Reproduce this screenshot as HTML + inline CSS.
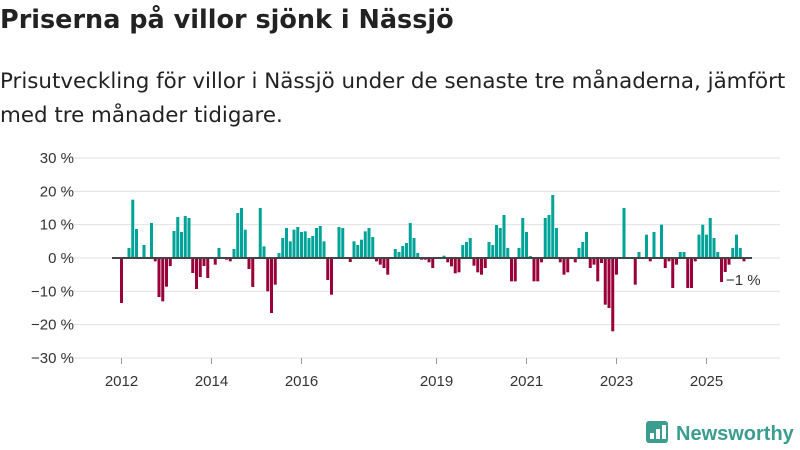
<!DOCTYPE html>
<html><head><meta charset="utf-8"><style>
body{margin:0;background:#fff;font-family:"Liberation Sans",sans-serif;}
#wrap{position:relative;width:800px;height:450px;overflow:hidden;}
h1{position:absolute;left:0;top:5px;margin:0;font-family:"DejaVu Sans",sans-serif;font-size:25.5px;font-weight:bold;color:#222;white-space:nowrap;}
p.sub{position:absolute;left:0;top:65px;margin:0;font-family:"DejaVu Sans",sans-serif;font-size:21.4px;line-height:34px;color:#222;width:800px;white-space:nowrap;}
svg{position:absolute;left:0;top:0;}
</style></head><body>
<div id="wrap">
<h1>Priserna på villor sjönk i Nässjö</h1>
<p class="sub">Prisutveckling för villor i Nässjö under de senaste tre månaderna, jämfört<br>med tre månader tidigare.</p>
<svg id="chart" width="800" height="450"></svg>
</div>
<script>
const values = [-13.5,0,3,17.5,8.7,0,3.9,0,10.5,-1,-11.7,-13,-8.6,-2.4,8.1,12.3,7.8,12.6,12,-4.5,-9.3,-5.7,-2.4,-6,0,-2,3,0,-0.5,-1,2.7,13.5,
15,8.5,-3.3,-8.7,0,15,3.5,-10,-16.5,-8,1.5,6,9,5,8.5,9.3,7.8,8,6,6.6,9,9.6,5,-6.6,-11,0,9.3,9,0,-1.2,5,3.9,
5.5,8,9,6.3,-1,-2,-3,-5,0,2.7,1.8,3.6,4.5,10.5,6,1.5,-0.5,-0.5,-1.3,-3,0,0,0.7,-1.3,-2.5,-4.6,-4.3,3.9,4.8,6,-2.3,-4.3,-5,-3,
4.8,3.9,9.9,9,12.9,3,-7,-7,3,12,7.8,0.6,-7,-7,-1.3,12,12.9,18.9,9,-1.3,-5,-4.3,0,-1.3,3,4.8,7.8,-3,-2,-7,
-1.5,-14,-15,-22,-5,0,15,0,0,-8,1.8,0,7,-1,7.8,0,10,-3,-1,-9,-2,1.8,1.8,-9,-9,-1,7,10,7,12,6,1.8,-7.2,-4.2,-2,3,7,3,-1];
const yTicks = [30,20,10,0,-10,-20,-30];
const yearLabels = [2012,2014,2016,2019,2021,2023,2025];
const lastLabel = "−1 %";

const svg = document.getElementById('chart');
const NS = 'http://www.w3.org/2000/svg';
const y = v => 258 - v * 3.333;
const x = i => 120 + 3.75 * i;
function mk(tag, attrs){const e=document.createElementNS(NS,tag);for(const k in attrs)e.setAttribute(k,attrs[k]);svg.appendChild(e);return e;}
yTicks.forEach(t=>{
  const g = mk('line',{x1:62,x2:780,y1:y(t),y2:y(t),stroke:'#e3e3e3','stroke-width':1});
  
  
  const l = mk('text',{x:74,y:y(t)+5,'text-anchor':'end','font-size':15,fill:'#333','font-family':'Liberation Sans, sans-serif'});
  l.textContent = (t<0?'−'+(-t):t)+' %';
  
  
});
values.forEach((v,i)=>{
  if(v===0) return;
  const r = mk('rect',{x:x(i),width:3,y:Math.min(y(v),y(0)),height:Math.abs(y(v)-y(0)),fill:v>0?'#00a398':'#990038'});
  
  
});
const zl = mk('line',{x1:112,x2:752,y1:y(0),y2:y(0),stroke:'#444','stroke-width':2});


yearLabels.forEach(yr=>{
  const i=(yr-2012)*12;
  const t = mk('text',{x:x(i)+1.5,y:386,'text-anchor':'middle','font-size':15,fill:'#333','font-family':'Liberation Sans, sans-serif'});
  t.textContent = yr;
  
  
  const tk = mk('line',{x1:x(i)+1.5,x2:x(i)+1.5,y1:358,y2:364,stroke:'#999'});
  
  
});
const ll = mk('text',{x:726,y:285,'font-size':15,fill:'#333','font-family':'Liberation Sans, sans-serif'});
ll.textContent = lastLabel;


const lg = mk('g',{});


const ic = mk('rect',{x:646,y:421,width:22,height:22,rx:3,fill:'#3a9d8f'});


[[650,433,4,6],[656,429,4,10],[662,425,4,14]].forEach(b=>{
  const r=mk('rect',{x:b[0],y:b[1],width:b[2],height:b[3],fill:'#fff'});
  
  
});
const lt = mk('text',{x:676,y:440,'font-size':20,'font-weight':'bold',fill:'#3a9d8f','font-family':'Liberation Sans, sans-serif'});
lt.textContent='Newsworthy';


</script>
</body></html>
